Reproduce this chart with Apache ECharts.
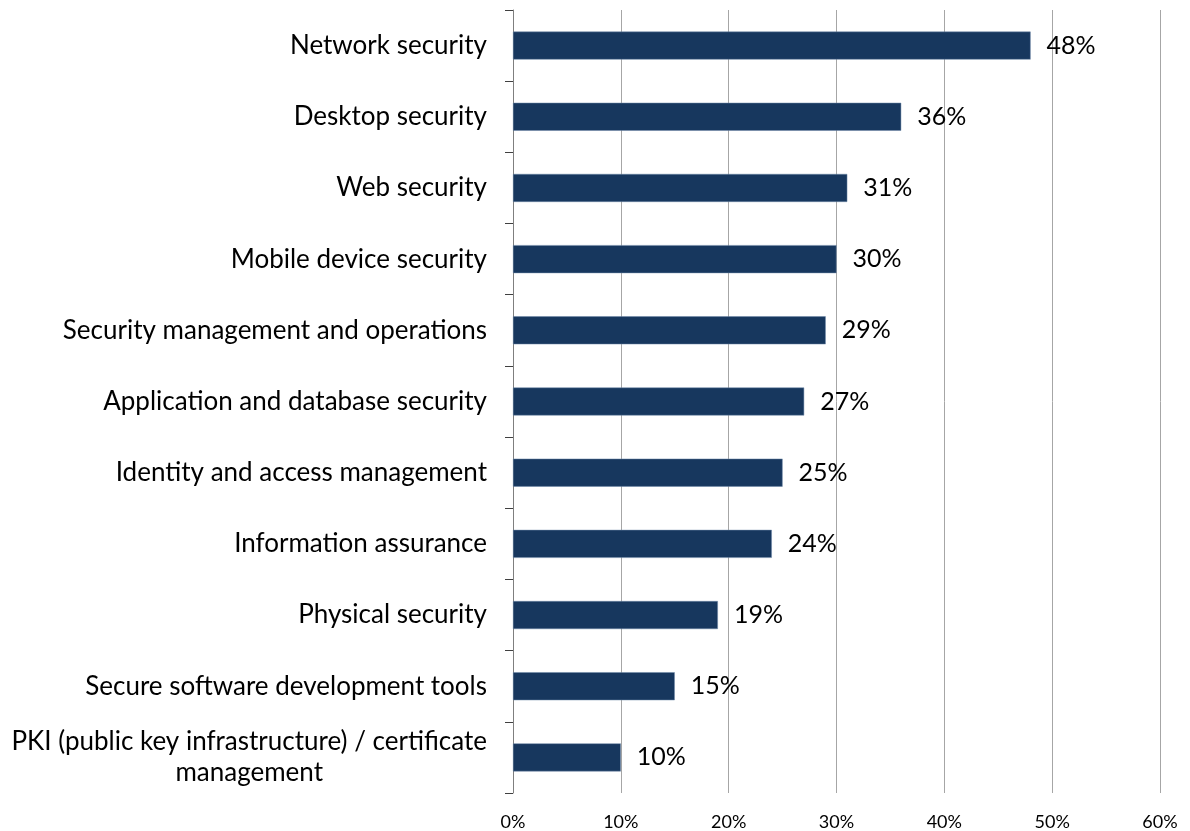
<!DOCTYPE html>
<html>
<head>
<meta charset="utf-8">
<style>
html,body{margin:0;padding:0;background:#fff;}
#chart{width:1190px;height:831px;}
</style>
<script src="https://cdn.jsdelivr.net/npm/echarts@6/dist/echarts.min.js"></script>
</head>
<body>
<div id="chart"></div>
<script>
const categories = [
  "Network security",
  "Desktop security",
  "Web security",
  "Mobile device security",
  "Security management and operations",
  "Application and database security",
  "Identity and access management",
  "Information assurance",
  "Physical security",
  "Secure software development tools",
  "PKI (public key infrastructure) / certificate\nmanagement"
];
const values = [48, 36, 31, 30, 29, 27, 25, 24, 19, 15, 10];
const xTicks = [0, 10, 20, 30, 40, 50, 60];

const FONT = 'Lato';
const chart = echarts.init(document.getElementById('chart'));
chart.setOption({
  animation: false,
  backgroundColor: '#ffffff',
  grid: { left: 513, right: 30, top: 10, bottom: 38, containLabel: false },
  xAxis: {
    type: 'value',
    min: xTicks[0],
    max: xTicks[xTicks.length - 1],
    interval: xTicks[1] - xTicks[0],
    axisLine: { show: false },
    axisTick: { show: false },
    splitLine: { show: true, lineStyle: { color: '#a6a6a6', width: 1 } },
    axisLabel: {
      formatter: '{value}%',
      fontFamily: FONT,
      fontSize: 18,
      color: '#000',
      margin: 20
    }
  },
  yAxis: {
    type: 'category',
    inverse: true,
    data: categories,
    axisLine: { show: true, lineStyle: { color: '#7f7f7f', width: 1 } },
    axisTick: { show: true, inside: false, length: 8, lineStyle: { color: '#404040', width: 1 } },
    splitLine: { show: false },
    axisLabel: {
      margin: 26,
      fontFamily: FONT,
      fontSize: 26,
      color: '#000',
      lineHeight: 31,
      formatter: function (v) {
        return v.split('\n').map(function (s) { return '{c|' + s + '}'; }).join('\n');
      },
      rich: {
        c: { align: 'center', fontFamily: FONT, fontSize: 26, color: '#000', lineHeight: 31 }
      }
    }
  },
  series: [{
    type: 'bar',
    data: values,
    barWidth: 28,
    itemStyle: { color: '#17375E', borderColor: '#6f89a8', borderWidth: 0.5 },
    label: {
      show: true,
      position: 'right',
      distance: 16,
      formatter: '{c}%',
      fontFamily: FONT,
      fontSize: 25,
      color: '#000'
    }
  }]
});
</script>
</body>
</html>
